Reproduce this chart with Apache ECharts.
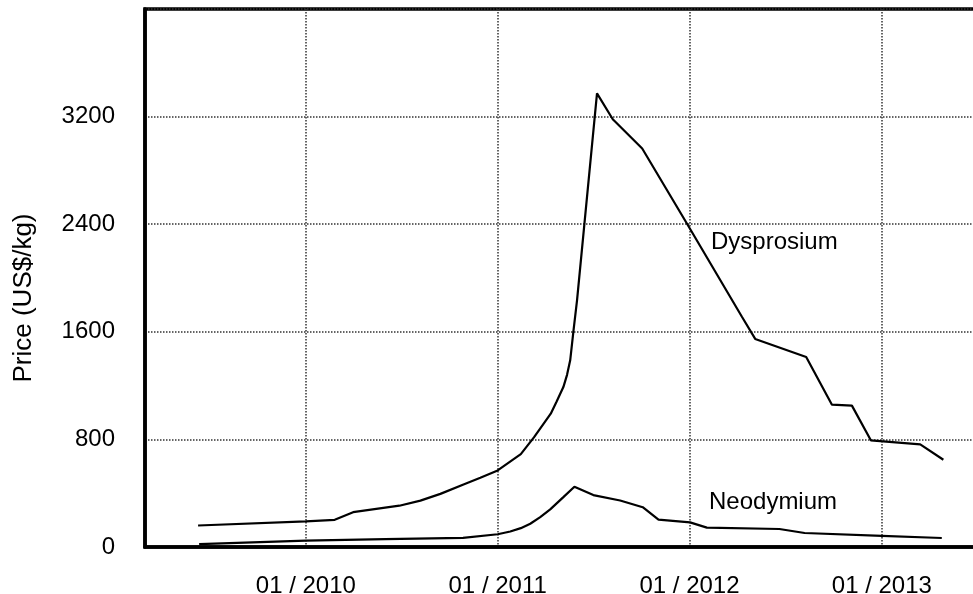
<!DOCTYPE html>
<html>
<head>
<meta charset="utf-8">
<script src="https://cdn.jsdelivr.net/npm/echarts@6/dist/echarts.min.js"></script>
<style>
html,body{margin:0;padding:0;background:#fff;}
#chart{width:973px;height:594px;}
</style>
</head>
<body>
<div id="chart"></div>
<script>
// Dysprosium price (US$/kg)
var dyDates = ['2009-06-10','2010-01-01','2010-02-25','2010-04-01','2010-06-28','2010-08-07','2010-09-14','2010-10-28','2010-11-29','2011-01-01','2011-02-14','2011-03-11','2011-04-12','2011-04-23','2011-05-06','2011-05-13','2011-05-19','2011-05-25','2011-06-01','2011-07-09','2011-08-08','2011-10-03','2011-12-27','2012-04-10','2012-05-05','2012-08-10','2012-09-28','2012-11-05','2012-12-11','2013-03-15','2013-04-28'];
var dyValues = [160,190,202,259,307,345,395,465,515,569,690,815,991,1080,1189,1280,1388,1600,1834,3373,3180,2963,2405,1710,1547,1413,1058,1051,793,763,649];
// Neodymium price (US$/kg)
var ndDates = ['2009-06-12','2010-01-01','2010-06-01','2010-10-27','2011-01-01','2011-01-25','2011-02-14','2011-03-04','2011-03-23','2011-04-11','2011-05-06','2011-05-27','2011-07-02','2011-08-22','2011-10-04','2011-11-03','2012-01-02','2012-02-03','2012-06-20','2012-08-07','2013-01-01','2013-04-25'];
var ndValues = [22,47,58,68,95,115,140,173,222,280,371,448,386,346,296,203,183,144,134,104,83,67];
var seriesNames = ['Dysprosium','Neodymium'];
var yTicks = [0,800,1600,2400,3200];
var yAxisTitle = 'Price (US$/kg)';

function pairs(d, v){ return d.map(function(x,i){ return [x, v[i]]; }); }

var FONT = "'Liberation Sans', Arial, sans-serif";
var chart = echarts.init(document.getElementById('chart'), null, {renderer:'canvas'});
var gridStyle = {show:true, lineStyle:{color:'#333', width:1.5, type:[1.5,1.5]}};
chart.setOption({
  animation:false,
  backgroundColor:'#fff',
  grid:{left:145, right:-4, top:9, bottom:47, show:true, borderColor:'#000', borderWidth:3.5,
        backgroundColor:'transparent', containLabel:false, outerBoundsMode:'none'},
  xAxis:{
    type:'time', min:'2009-03-01', max:'2013-07-01',
    splitNumber:4, minInterval:365*86400000, maxInterval:366*86400000,
    axisLine:{show:true, lineStyle:{color:'#000', width:3.5}},
    axisTick:{show:false},
    splitLine:gridStyle,
    axisLabel:{formatter:'{MM} / {yyyy}', color:'#000', fontSize:24, fontFamily:FONT, margin:27, showMinLabel:false, showMaxLabel:false}
  },
  yAxis:{
    type:'value', min:0, max:4000, interval:800,
    name:yAxisTitle, nameLocation:'middle', nameGap:108, nameRotate:90,
    nameTextStyle:{color:'#000', fontSize:26, fontFamily:FONT, padding:[0,40,0,0]},
    axisLine:{show:true, lineStyle:{color:'#000', width:3.5}},
    axisTick:{show:false},
    splitLine:gridStyle,
    axisLabel:{color:'#000', fontSize:24, fontFamily:FONT, margin:30,
      formatter:function(v){ return yTicks.indexOf(v) >= 0 ? String(v) : ''; }}
  },
  series:[
    {name:seriesNames[0], type:'line', data:pairs(dyDates, dyValues), showSymbol:false, symbol:'none',
     lineStyle:{color:'#000', width:2.2}, z:5},
    {name:seriesNames[1], type:'line', data:pairs(ndDates, ndValues), showSymbol:false, symbol:'none',
     lineStyle:{color:'#000', width:2.2}, z:5}
  ],
  graphic:[
    {type:'text', left:711, top:230, style:{text:seriesNames[0], font:'24px '+FONT, fill:'#000'}},
    {type:'text', left:709, top:490, style:{text:seriesNames[1], font:'24px '+FONT, fill:'#000'}}
  ]
});
</script>
</body>
</html>
